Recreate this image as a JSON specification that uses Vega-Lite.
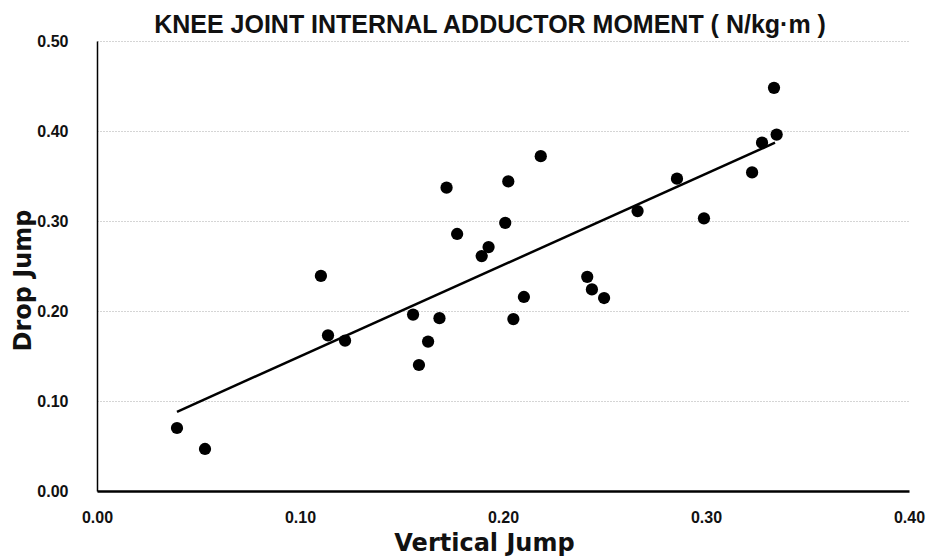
{
  "$schema": "https://vega.github.io/schema/vega-lite/v6.json",
  "autosize": "none",
  "width": 812,
  "height": 450,
  "padding": {"left": 97, "top": 41, "right": 20, "bottom": 65},
  "background": "white",
  "title": {
    "text": "KNEE JOINT INTERNAL ADDUCTOR MOMENT ( N/kg·m )",
    "font": "Liberation Sans",
    "fontSize": 25,
    "fontWeight": "bold",
    "color": "#111",
    "anchor": "middle",
    "offset": 9,
    "dx": -13,
    "dy": 14
  },
  "datasets": {
    "pts": [
      {"vj": 0.0394, "dj": 0.070},
      {"vj": 0.0532, "dj": 0.0467},
      {"vj": 0.1103, "dj": 0.239},
      {"vj": 0.1138, "dj": 0.173},
      {"vj": 0.1222, "dj": 0.167},
      {"vj": 0.1557, "dj": 0.196},
      {"vj": 0.1586, "dj": 0.140},
      {"vj": 0.1631, "dj": 0.166},
      {"vj": 0.1687, "dj": 0.192},
      {"vj": 0.1722, "dj": 0.337},
      {"vj": 0.1774, "dj": 0.2856},
      {"vj": 0.1895, "dj": 0.261},
      {"vj": 0.1929, "dj": 0.271},
      {"vj": 0.2011, "dj": 0.298},
      {"vj": 0.2026, "dj": 0.344},
      {"vj": 0.2051, "dj": 0.191},
      {"vj": 0.2103, "dj": 0.2156},
      {"vj": 0.2186, "dj": 0.372},
      {"vj": 0.2415, "dj": 0.238},
      {"vj": 0.2438, "dj": 0.224},
      {"vj": 0.2498, "dj": 0.2144},
      {"vj": 0.2663, "dj": 0.311},
      {"vj": 0.2857, "dj": 0.347},
      {"vj": 0.2990, "dj": 0.303},
      {"vj": 0.3227, "dj": 0.354},
      {"vj": 0.3276, "dj": 0.387},
      {"vj": 0.3335, "dj": 0.448},
      {"vj": 0.3348, "dj": 0.396}
    ],
    "trend": [
      {"vj": 0.0394, "dj": 0.088},
      {"vj": 0.3340, "dj": 0.387}
    ]
  },
  "config": {
    "view": {"stroke": null},
    "axis": {
      "labelFont": "Liberation Sans",
      "labelFontWeight": "bold",
      "labelFontSize": 16,
      "labelColor": "#111",
      "labelFlush": false,
      "titleFont": "DejaVu Sans",
      "titleFontWeight": "bold",
      "titleFontSize": 24,
      "titleColor": "#111",
      "ticks": false,
      "domainColor": "#000"
    }
  },
  "layer": [
    {
      "data": {"name": "pts"},
      "mark": {"type": "circle", "color": "#000", "opacity": 1, "size": 150},
      "encoding": {
        "x": {
          "field": "vj", "type": "quantitative",
          "scale": {"domain": [0, 0.4], "nice": false},
          "axis": {
            "title": "Vertical Jump",
            "values": [0, 0.1, 0.2, 0.3, 0.4],
            "format": ".2f",
            "grid": false,
            "domainWidth": 2.5,
            "labelPadding": 18,
            "labelBaseline": "top",
            "titleX": 387,
            "titleY": 59,
            "titleAnchor": null,
            "titleAlign": "center",
            "titleBaseline": "alphabetic"
          }
        },
        "y": {
          "field": "dj", "type": "quantitative",
          "scale": {"domain": [0, 0.5], "nice": false},
          "axis": {
            "title": "Drop Jump",
            "values": [0, 0.1, 0.2, 0.3, 0.4, 0.5],
            "format": ".2f",
            "grid": true,
            "gridColor": "#aaa",
            "gridDash": [1, 2],
            "gridWidth": 1,
            "domainWidth": 1.5,
            "labelPadding": 29,
            "titleX": -74,
            "titleY": 239,
            "titleAngle": -90,
            "titleAlign": "center",
            "titleBaseline": "middle"
          }
        }
      }
    },
    {
      "data": {"name": "trend"},
      "mark": {"type": "line", "color": "#000", "strokeWidth": 2.5},
      "encoding": {
        "x": {"field": "vj", "type": "quantitative"},
        "y": {"field": "dj", "type": "quantitative"}
      }
    }
  ]
}
